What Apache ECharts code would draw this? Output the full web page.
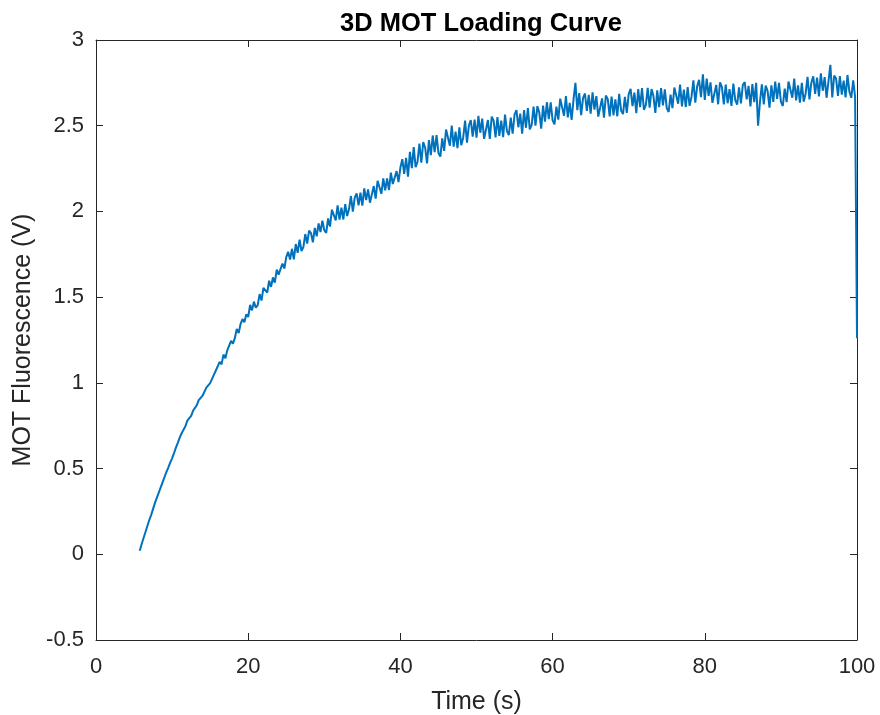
<!DOCTYPE html>
<html>
<head>
<meta charset="utf-8">
<title>3D MOT Loading Curve</title>
<script src="https://cdn.jsdelivr.net/npm/echarts@6/dist/echarts.min.js"></script>
<style>
  html, body { margin: 0; padding: 0; background: #fff; }
  #mot-chart { width: 880px; height: 715px; }
</style>
</head>
<body>
<div id="mot-chart"></div>
<script>
// Sampling of the trace (s)
var startTime = 5.75;
var timeStep = 0.25;

// MOT fluorescence (V), one row per second
var fluorescence = [
  0.02, 0.06,
  0.095, 0.13, 0.165, 0.20,
  0.23, 0.265, 0.30, 0.33,
  0.36, 0.39, 0.42, 0.45,
  0.48, 0.505, 0.535, 0.56,
  0.590, 0.622, 0.650, 0.680,
  0.706, 0.716, 0.747, 0.780,
  0.782, 0.808, 0.837, 0.845,
  0.870, 0.899, 0.891, 0.925,
  0.934, 0.972, 0.965, 0.998,
  1.000, 1.048, 1.072, 1.074,
  1.122, 1.108, 1.165, 1.143,
  1.190, 1.181, 1.245, 1.229,
  1.262, 1.315, 1.291, 1.344,
  1.372, 1.354, 1.400, 1.384,
  1.455, 1.423, 1.474, 1.438,
  1.453, 1.518, 1.480, 1.554,
  1.559, 1.527, 1.596, 1.560,
  1.615, 1.585, 1.661, 1.631,
  1.633, 1.696, 1.667, 1.733,
  1.765, 1.719, 1.782, 1.720,
  1.810, 1.758, 1.835, 1.769,
  1.792, 1.868, 1.813, 1.888,
  1.874, 1.820, 1.904, 1.855,
  1.930, 1.880, 1.946, 1.891,
  1.875, 1.959, 1.912, 2.010,
  2.020, 1.948, 2.035, 1.952,
  2.022, 1.953, 2.043, 1.973,
  2.014, 2.090, 1.999, 2.080,
  2.105, 2.035, 2.109, 2.034,
  2.135, 2.066, 2.129, 2.051,
  2.061, 2.148, 2.075, 2.179,
  2.172, 2.103, 2.193, 2.123,
  2.192, 2.125, 2.226, 2.160,
  2.151, 2.235, 2.171, 2.256,
  2.305, 2.219, 2.313, 2.203,
  2.348, 2.253, 2.375, 2.258,
  2.290, 2.396, 2.285, 2.404,
  2.373, 2.280, 2.416, 2.329,
  2.443, 2.346, 2.445, 2.341,
  2.320, 2.426, 2.353, 2.478,
  2.483, 2.383, 2.500, 2.378,
  2.465, 2.369, 2.490, 2.386,
  2.430, 2.530, 2.401, 2.501,
  2.533, 2.436, 2.535, 2.431,
  2.558, 2.459, 2.541, 2.423,
  2.426, 2.533, 2.423, 2.553,
  2.530, 2.432, 2.550, 2.441,
  2.530, 2.433, 2.565, 2.469,
  2.445, 2.547, 2.454, 2.564,
  2.591, 2.491, 2.571, 2.453,
  2.591, 2.488, 2.603, 2.478,
  2.505, 2.611, 2.500, 2.614,
  2.577, 2.483, 2.617, 2.524,
  2.637, 2.538, 2.636, 2.531,
  2.508, 2.611, 2.536, 2.658,
  2.661, 2.558, 2.673, 2.548,
  2.633, 2.534, 2.653, 2.750,
  2.591, 2.690, 2.562, 2.661,
  2.688, 2.586, 2.680, 2.571,
  2.695, 2.594, 2.673, 2.553,
  2.553, 2.659, 2.547, 2.676,
  2.655, 2.554, 2.670, 2.561,
  2.653, 2.555, 2.686, 2.589,
  2.568, 2.669, 2.575, 2.684,
  2.715, 2.614, 2.693, 2.573,
  2.713, 2.608, 2.720, 2.593,
  2.620, 2.721, 2.605, 2.714,
  2.673, 2.575, 2.706, 2.609,
  2.720, 2.618, 2.712, 2.603,
  2.580, 2.681, 2.603, 2.723,
  2.733, 2.628, 2.740, 2.613,
  2.710, 2.609, 2.725, 2.616,
  2.668, 2.765, 2.634, 2.731,
  2.768, 2.666, 2.800, 2.651,
  2.775, 2.674, 2.753, 2.633,
  2.633, 2.738, 2.625, 2.753,
  2.725, 2.624, 2.740, 2.631,
  2.713, 2.615, 2.746, 2.649,
  2.623, 2.724, 2.630, 2.739,
  2.755, 2.654, 2.733, 2.613,
  2.743, 2.638, 2.750, 2.500,
  2.640, 2.741, 2.625, 2.734,
  2.703, 2.605, 2.736, 2.639,
  2.758, 2.656, 2.750, 2.641,
  2.615, 2.716, 2.638, 2.758,
  2.768, 2.663, 2.775, 2.648,
  2.735, 2.634, 2.750, 2.641,
  2.688, 2.785, 2.654, 2.751,
  2.788, 2.686, 2.780, 2.671,
  2.805, 2.704, 2.783, 2.663,
  2.673, 2.855, 2.665, 2.793,
  2.775, 2.674, 2.790, 2.681,
  2.763, 2.665, 2.796, 2.699,
  2.663, 2.764, 2.670, 1.26
];

// Axis ticks
var timeTicks = { min: 0, max: 100, interval: 20 };
var voltTicks = { min: -0.5, max: 3, interval: 0.5 };

document.addEventListener('DOMContentLoaded', function () {
  var chart = echarts.init(document.getElementById('mot-chart'), null, { renderer: 'canvas' });

  var points = fluorescence.map(function (v, i) {
    return [startTime + i * timeStep, v];
  });

  var axisColor = '#262626';
  var font = 'Liberation Sans, Arial, Helvetica, sans-serif';

  // MATLAB style box: every side has a line and inner ticks
  function boxAxis(extra) {
    return Object.assign({
      type: 'value',
      axisLine: { show: true, onZero: false, lineStyle: { color: axisColor, width: 1 } },
      axisTick: { show: true, inside: true, length: 7, lineStyle: { color: axisColor } },
      axisLabel: { show: false },
      splitLine: { show: false }
    }, extra);
  }

  var option = {
    animation: false,
    backgroundColor: '#ffffff',
    title: {
      text: '3D MOT Loading Curve',
      left: 335,
      top: 6,
      textStyle: { fontFamily: font, fontSize: 25.5, fontWeight: 'bold', color: '#000' }
    },
    grid: { left: 96, right: 23, top: 40, bottom: 75, containLabel: false, outerBoundsMode: 'none' },
    xAxis: [
      boxAxis({
        position: 'bottom',
        min: timeTicks.min, max: timeTicks.max, interval: timeTicks.interval,
        name: 'Time (s)',
        nameLocation: 'middle',
        nameGap: 50,
        nameTextStyle: { fontFamily: font, fontSize: 25, color: axisColor },
        axisLabel: { show: true, margin: 16, fontFamily: font, fontSize: 22, color: axisColor }
      }),
      boxAxis({
        position: 'top',
        min: timeTicks.min, max: timeTicks.max, interval: timeTicks.interval
      })
    ],
    yAxis: [
      boxAxis({
        position: 'left',
        min: voltTicks.min, max: voltTicks.max, interval: voltTicks.interval,
        name: 'MOT Fluorescence (V)',
        nameLocation: 'middle',
        nameGap: 58,
        nameTextStyle: { fontFamily: font, fontSize: 25, color: axisColor },
        axisLabel: { show: true, margin: 12, fontFamily: font, fontSize: 22, color: axisColor }
      }),
      boxAxis({
        position: 'right',
        min: voltTicks.min, max: voltTicks.max, interval: voltTicks.interval
      })
    ],
    series: [
      {
        name: 'MOT',
        type: 'line',
        data: points,
        showSymbol: false,
        symbol: 'none',
        lineStyle: { color: '#0072BD', width: 2 }
      }
    ]
  };

  chart.setOption(option);
});
</script>
</body>
</html>
